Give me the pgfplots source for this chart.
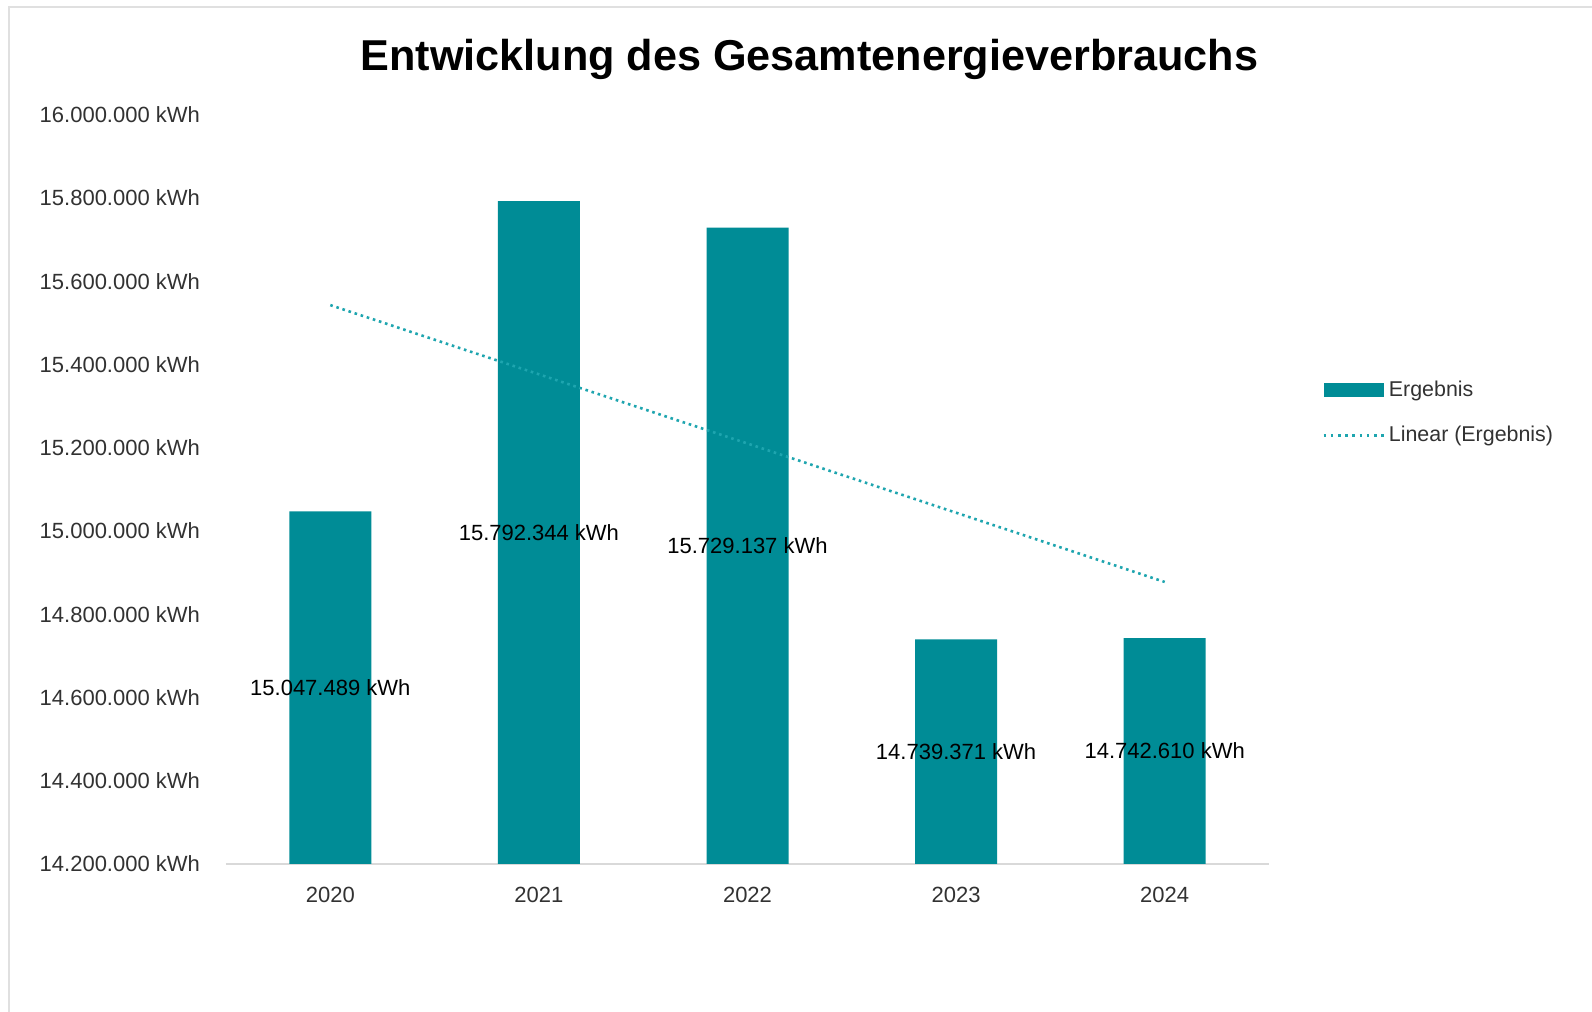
\documentclass[border=0pt]{standalone}
\usepackage{fontspec}
\setmainfont{Liberation Sans}
\usepackage{pgfplots}
\pgfplotsset{compat=1.18}
\definecolor{barc}{RGB}{0,140,150}
\definecolor{trendc}{RGB}{30,165,175}
\definecolor{tickc}{RGB}{50,50,50}
\pgfplotstableread[col sep=comma]{
x,y
0,15047489
1,15792344
2,15729137
3,14739371
4,14742610
}\databars
\pgfplotstableread[col sep=comma]{
x,y,label
0,14623744.5,15.047.489 kWh
1,14996172,15.792.344 kWh
2,14964568.5,15.729.137 kWh
3,14469685.5,14.739.371 kWh
4,14471305,14.742.610 kWh
}\datalabels
\pgfplotstableread[col sep=comma]{
x,y
0,15542736.4
4,14877644.0
}\datatrend
\begin{document}
\begin{tikzpicture}[x=1pt,y=1pt]
\fill[white] (0,0) rectangle (796,506);
\path[use as bounding box] (0,0) rectangle (796,506);
\draw[black!12, line width=0.75pt] (4.5,0) -- (4.5,502.5) -- (796,502.5);
\node[anchor=base, font=\fontsize{21.6}{26}\selectfont\bfseries] at (404.7,470.5) {Entwicklung des Gesamtenergieverbrauchs};
\begin{axis}[
  at={(113pt,74pt)}, anchor=south west,
  scale only axis, width=521.5pt, height=374.6pt,
  xmin=-0.5, xmax=4.5, ymin=14200000, ymax=16000000,
  scaled y ticks=false,
  axis x line*=bottom, axis y line*=left,
  y axis line style={draw=none},
  x axis line style={draw=black!15, line width=0.9pt, -},
  xtick={0,1,2,3,4},
  xticklabels={2020,2021,2022,2023,2024},
  ytick={14200000,14400000,14600000,14800000,15000000,15200000,15400000,15600000,15800000,16000000},
  yticklabels={14.200.000 kWh,14.400.000 kWh,14.600.000 kWh,14.800.000 kWh,15.000.000 kWh,15.200.000 kWh,15.400.000 kWh,15.600.000 kWh,15.800.000 kWh,16.000.000 kWh},
  xtick style={draw=none}, ytick style={draw=none},
  major tick length=0pt,
  xticklabel style={font=\fontsize{11}{13}\selectfont, text=tickc, anchor=center, yshift=-15.3pt},
  yticklabel style={font=\fontsize{11}{13}\selectfont, text=tickc, anchor=east, xshift=-9.5pt},
  clip=true,
  legend style={at={(1.045,0.602)}, anchor=west, draw=none, fill=none,
    font=\fontsize{10.7}{13}\selectfont, text=tickc, row sep=9.5pt,
    /tikz/every even column/.append style={column sep=4pt}},
  legend cell align=left,
]
\addplot[ybar, bar width=41pt, fill=barc, draw=none,
  legend image code/.code={\fill[barc] (0pt,-3.6pt) rectangle (30pt,3.6pt);}]
  table[x=x, y=y] {\databars};
\addlegendentry{Ergebnis}
\addplot[trendc, line width=1.3pt, dash pattern=on 1.3pt off 1.9pt, mark=none,
  legend image code/.code={\draw[trendc, line width=1.3pt, dash pattern=on 1.3pt off 2.3pt] (0pt,0pt) -- (30pt,0pt);}]
  table[x=x, y=y] {\datatrend};
\addlegendentry{Linear (Ergebnis)}
\addplot[draw=none, mark=none, forget plot, nodes near coords, point meta=explicit symbolic,
  every node near coord/.append style={anchor=center, font=\fontsize{11}{13}\selectfont, text=black, inner sep=0pt}]
  table[x=x, y=y, meta=label] {\datalabels};
\end{axis}
\end{tikzpicture}
\end{document}
